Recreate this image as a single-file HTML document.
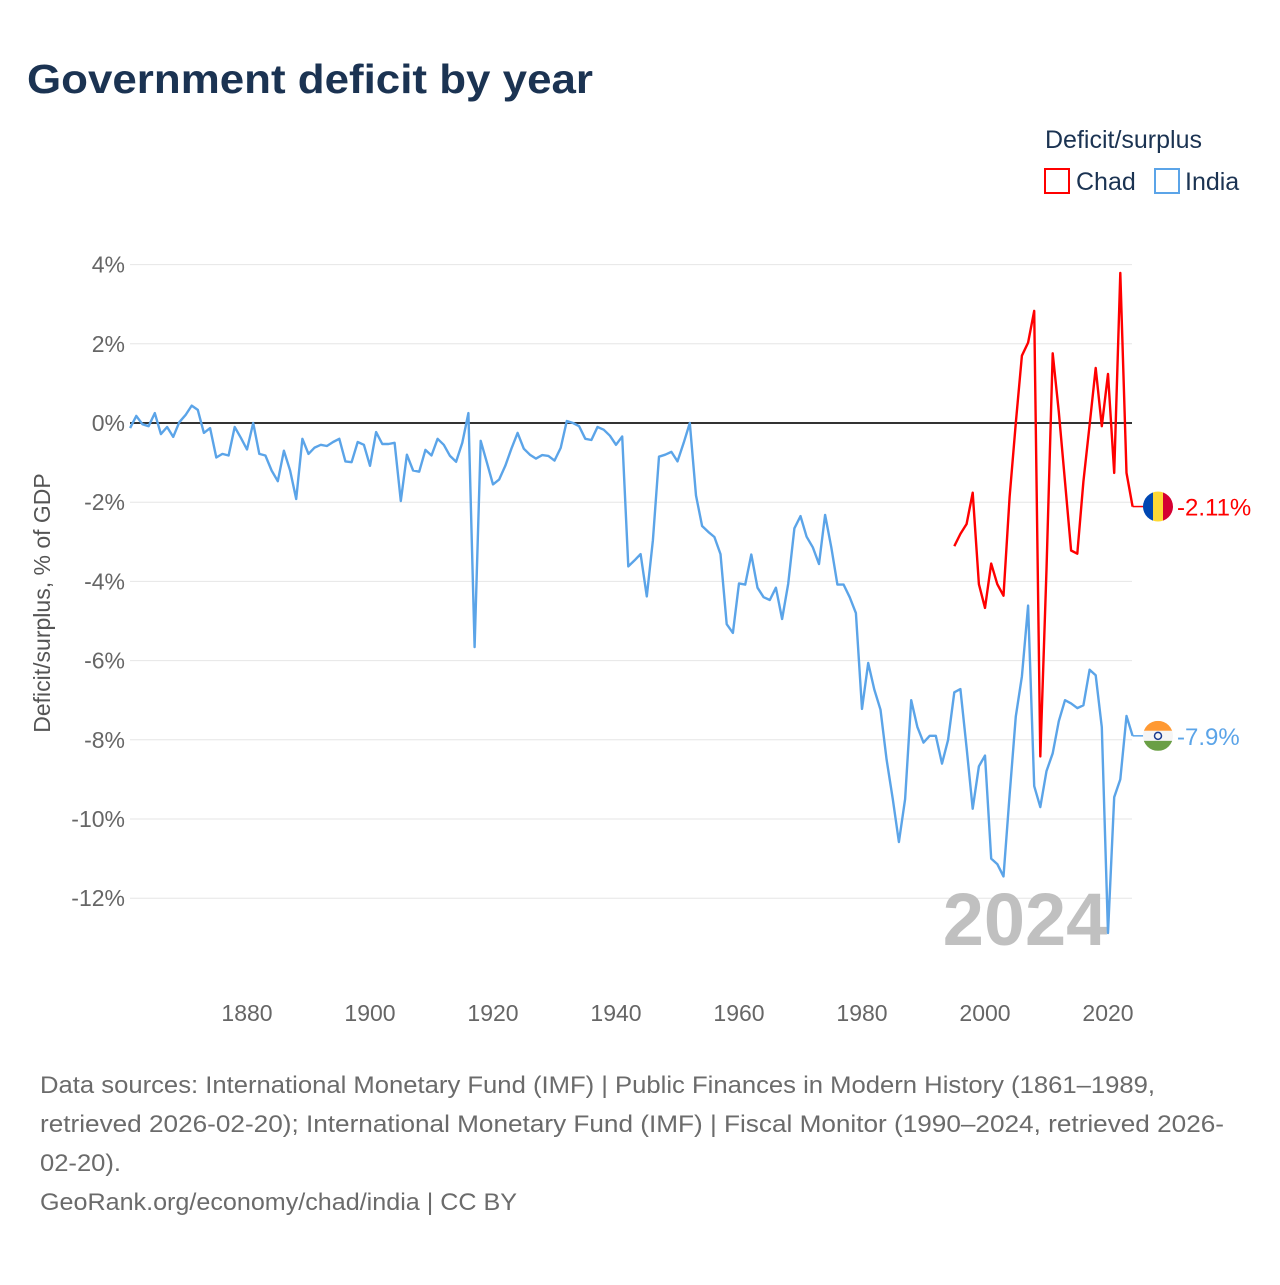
<!DOCTYPE html>
<html><head><meta charset="utf-8">
<style>
body{margin:0;width:1280px;height:1280px;background:#fff;font-family:"Liberation Sans",sans-serif;overflow:hidden}
</style></head>
<body>
<svg id="chart" width="1280" height="1280" xmlns="http://www.w3.org/2000/svg">
<text x="27" y="93" font-size="41" font-weight="bold" fill="#1b3352" textLength="566" lengthAdjust="spacingAndGlyphs">Government deficit by year</text>
<text x="1045" y="148" font-size="25" fill="#1b3352">Deficit/surplus</text>
<g>
<rect x="1045" y="169" width="24" height="24" fill="none" stroke="#ff0000" stroke-width="2"/>
<text x="1076" y="190" font-size="25" fill="#1b3352">Chad</text>
</g>
<g>
<rect x="1155" y="169" width="24" height="24" fill="none" stroke="#5ba4e8" stroke-width="2"/>
<text x="1185" y="190" font-size="25" fill="#1b3352">India</text>
</g>
<text transform="translate(50,603) rotate(-90)" text-anchor="middle" font-size="23" fill="#555">Deficit/surplus, % of GDP</text>
<g id="grid"></g>
<text x="1025" y="945" text-anchor="middle" font-size="74" font-weight="bold" fill="#c0c0c0">2024</text>
<g id="series"></g>
<g id="labels"></g>
<g font-size="24" fill="#6b6b6b">
<text x="40" y="1093" textLength="1115" lengthAdjust="spacingAndGlyphs">Data sources: International Monetary Fund (IMF) | Public Finances in Modern History (1861–1989,</text>
<text x="40" y="1132" textLength="1184" lengthAdjust="spacingAndGlyphs">retrieved 2026-02-20); International Monetary Fund (IMF) | Fiscal Monitor (1990–2024, retrieved 2026-</text>
<text x="40" y="1171" textLength="81" lengthAdjust="spacingAndGlyphs">02-20).</text>
<text x="40" y="1210" textLength="477" lengthAdjust="spacingAndGlyphs">GeoRank.org/economy/chad/india | CC BY</text>
</g>
</svg>
<script>
const yTicks = [4, 2, 0, -2, -4, -6, -8, -10, -12];
const xTicks = [1880, 1900, 1920, 1940, 1960, 1980, 2000, 2020];
const indiaStart = 1861;
const indiaValues = [-0.13,0.18,-0.03,-0.08,0.25,-0.28,-0.1,-0.35,0.02,0.2,0.44,0.33,-0.25,-0.13,-0.87,-0.78,-0.82,-0.1,-0.37,-0.67,0,-0.78,-0.82,-1.2,-1.47,-0.7,-1.2,-1.92,-0.4,-0.78,-0.62,-0.55,-0.58,-0.48,-0.4,-0.97,-0.99,-0.48,-0.55,-1.08,-0.23,-0.53,-0.53,-0.5,-1.97,-0.8,-1.2,-1.23,-0.68,-0.82,-0.4,-0.55,-0.83,-0.98,-0.5,0.25,-5.66,-0.45,-1.0,-1.55,-1.43,-1.08,-0.65,-0.25,-0.65,-0.8,-0.9,-0.81,-0.83,-0.95,-0.63,0.05,0.0,-0.08,-0.4,-0.43,-0.1,-0.17,-0.32,-0.55,-0.34,-3.62,-3.47,-3.31,-4.38,-2.96,-0.85,-0.8,-0.73,-0.97,-0.5,0,-1.83,-2.6,-2.75,-2.88,-3.31,-5.08,-5.3,-4.05,-4.08,-3.32,-4.16,-4.4,-4.47,-4.16,-4.95,-4.06,-2.66,-2.35,-2.87,-3.14,-3.56,-2.32,-3.14,-4.08,-4.08,-4.4,-4.8,-7.22,-6.06,-6.73,-7.24,-8.5,-9.5,-10.58,-9.5,-7.0,-7.68,-8.07,-7.9,-7.9,-8.6,-8.0,-6.8,-6.72,-8.2,-9.74,-8.67,-8.4,-11.0,-11.14,-11.45,-9.4,-7.41,-6.4,-4.61,-9.17,-9.7,-8.79,-8.34,-7.53,-7.0,-7.08,-7.2,-7.13,-6.23,-6.37,-7.68,-12.88,-9.45,-9.0,-7.4,-7.9];
const chadStart = 1995;
const chadValues = [-3.11,-2.8,-2.55,-1.76,-4.07,-4.67,-3.55,-4.07,-4.36,-1.87,0,1.7,2.03,2.83,-8.42,-3.7,1.76,0.28,-1.48,-3.22,-3.3,-1.48,-0.05,1.39,-0.08,1.24,-1.26,3.79,-1.26,-2.11];
const seriesNames = ["Chad", "India"];
const endLabels = ["-2.11%", "-7.9%"];

const NS = "http://www.w3.org/2000/svg";
const X = yr => 247 + (yr - 1880) * 6.15;
const Y = v => 423 - v * 39.6;
function mk(tag, attrs, parent){const e=document.createElementNS(NS,tag);for(const k in attrs)e.setAttribute(k,attrs[k]);parent.appendChild(e);return e;}
const grid=document.getElementById('grid'), series=document.getElementById('series'), labels=document.getElementById('labels');
yTicks.forEach(t=>{
  if(t!==0){const l=mk('line',{x1:130,x2:1132,y1:Y(t),y2:Y(t),stroke:'#e6e6e6','stroke-width':1},grid);
  
  }
  const tx=mk('text',{x:125,y:Y(t)+8,'text-anchor':'end','font-size':23,fill:'#666'},grid);
  tx.textContent=t+'%';
  
  
});
xTicks.forEach(t=>{
  const tx=mk('text',{x:X(t),y:1021,'text-anchor':'middle','font-size':23,fill:'#666'},grid);
  tx.textContent=t;
  
  
});
const zl=mk('line',{x1:130,x2:1132,y1:Y(0),y2:Y(0),stroke:'#333','stroke-width':2},grid);


function line(vals,start){
  return vals.map((v,i)=>(i?'L':'M')+X(start+i).toFixed(1)+','+Y(v).toFixed(1)).join(' ');
}
const pi=mk('path',{d:line(indiaValues,indiaStart),fill:'none',stroke:'#5ba4e8','stroke-width':2.4,'stroke-linejoin':'round'},series);


const pc=mk('path',{d:line(chadValues,chadStart),fill:'none',stroke:'#ff0000','stroke-width':2.4,'stroke-linejoin':'round'},series);



const lastC=chadValues[chadValues.length-1], lastI=indiaValues[indiaValues.length-1];
const endX=X(2024);
[[lastC,'#ff0000',endLabels[0],'chad'],[lastI,'#5ba4e8',endLabels[1],'india']].forEach(([v,c,lab,nm])=>{
  const y=Y(v);
  const cn=mk('line',{x1:endX,x2:1144,y1:y,y2:y,stroke:c,'stroke-width':1.5},labels);
  
  
  const g=mk('g',{},labels);
  
  
  const cx=1158,r=15;
  const clipId='clip-'+nm;
  const cp=mk('clipPath',{id:clipId},g); mk('circle',{cx:cx,cy:y,r:r},cp);
  if(nm==='chad'){
    mk('rect',{x:cx-r,y:y-r,width:10,height:2*r,fill:'#0047b3','clip-path':`url(#${clipId})`},g);
    mk('rect',{x:cx-5,y:y-r,width:10,height:2*r,fill:'#fdd835','clip-path':`url(#${clipId})`},g);
    mk('rect',{x:cx+5,y:y-r,width:10,height:2*r,fill:'#d50032','clip-path':`url(#${clipId})`},g);
  } else {
    mk('rect',{x:cx-r,y:y-r,width:2*r,height:10,fill:'#ff9933','clip-path':`url(#${clipId})`},g);
    mk('rect',{x:cx-r,y:y-5,width:2*r,height:10,fill:'#f5f5f5','clip-path':`url(#${clipId})`},g);
    mk('rect',{x:cx-r,y:y+5,width:2*r,height:10,fill:'#6a9f45','clip-path':`url(#${clipId})`},g);
    mk('circle',{cx:cx,cy:y,r:3.5,fill:'none',stroke:'#1a3a8f','stroke-width':1.5},g);
  }
  const t=mk('text',{x:1177,y:y+9,'font-size':24,fill:c},labels);
  t.textContent=lab;
  
  
});
</script>
</body></html>
